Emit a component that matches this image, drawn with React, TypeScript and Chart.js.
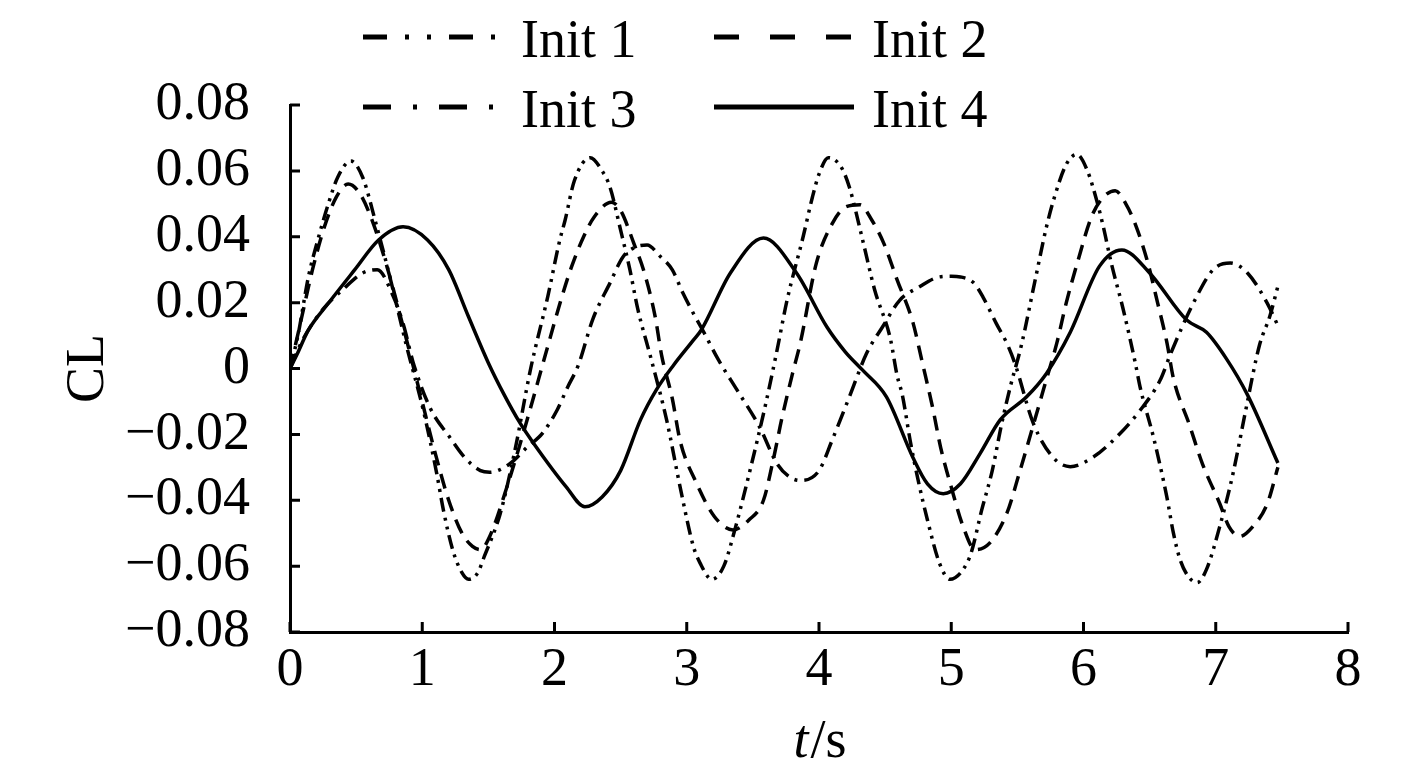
import React, { useEffect, useRef } from 'react';
import { Chart, registerables } from 'chart.js';

Chart.register(...registerables);

const FONT = "'Liberation Serif', 'Times New Roman', serif";

const seriesLabels = ['Init 1', 'Init 2', 'Init 3', 'Init 4'];
const xTicks = [0, 1, 2, 3, 4, 5, 6, 7, 8];
const yTicks = [-0.08, -0.06, -0.04, -0.02, 0, 0.02, 0.04, 0.06, 0.08];
const yTitle = 'CL';
const xTitleItalic = 't';
const xTitleRest = '/s';

const init1T = [0, 0.06, 0.14, 0.21, 0.29, 0.36, 0.46, 0.55, 0.65, 0.76, 0.88, 1.01, 1.11, 1.16, 1.23, 1.3, 1.35, 1.42, 1.47, 1.59, 1.7, 1.82, 1.95, 2.04, 2.08, 2.15, 2.27, 2.36, 2.42, 2.5, 2.57, 2.63, 2.73, 2.85, 2.95, 3.05, 3.1, 3.19, 3.28, 3.37, 3.49, 3.59, 3.68, 3.76, 3.88, 3.95, 4.0, 4.07, 4.17, 4.23, 4.33, 4.42, 4.54, 4.59, 4.63, 4.69, 4.75, 4.82, 4.91, 4.99, 5.09, 5.15, 5.23, 5.31, 5.38, 5.45, 5.53, 5.63, 5.72, 5.78, 5.87, 5.95, 6.03, 6.1, 6.15, 6.21, 6.3, 6.39, 6.43, 6.53, 6.63, 6.68, 6.73, 6.79, 6.86, 6.93, 7.03, 7.13, 7.23, 7.33, 7.41, 7.47];
const init1CL = [0, 0.01, 0.028, 0.039, 0.05, 0.058, 0.063, 0.058, 0.044, 0.027, 0.007, -0.013, -0.032, -0.043, -0.055, -0.062, -0.064, -0.062, -0.057, -0.044, -0.025, 0, 0.022, 0.039, 0.045, 0.057, 0.064, 0.06, 0.055, 0.042, 0.03, 0.018, 0.003, -0.016, -0.036, -0.054, -0.059, -0.064, -0.06, -0.048, -0.029, -0.012, 0.005, 0.021, 0.04, 0.052, 0.059, 0.064, 0.061, 0.055, 0.039, 0.024, 0.009, -0.002, -0.008, -0.022, -0.034, -0.046, -0.059, -0.064, -0.061, -0.056, -0.043, -0.031, -0.017, -0.005, 0.007, 0.026, 0.043, 0.052, 0.062, 0.065, 0.06, 0.051, 0.043, 0.032, 0.018, 0.002, -0.006, -0.021, -0.039, -0.05, -0.058, -0.063, -0.065, -0.061, -0.048, -0.032, -0.012, 0.007, 0.016, 0.025];

const init2T = [0, 0.08, 0.17, 0.26, 0.35, 0.44, 0.53, 0.63, 0.74, 0.86, 0.98, 1.1, 1.2, 1.3, 1.38, 1.44, 1.51, 1.64, 1.79, 1.93, 2.05, 2.13, 2.22, 2.3, 2.43, 2.5, 2.6, 2.68, 2.76, 2.81, 2.89, 2.95, 3.07, 3.21, 3.35, 3.47, 3.58, 3.65, 3.72, 3.8, 3.86, 3.98, 4.1, 4.2, 4.31, 4.4, 4.49, 4.59, 4.71, 4.78, 4.86, 4.92, 5.0, 5.09, 5.18, 5.29, 5.42, 5.52, 5.6, 5.7, 5.8, 5.87, 5.96, 6.06, 6.15, 6.24, 6.32, 6.39, 6.48, 6.56, 6.63, 6.68, 6.8, 6.9, 7.03, 7.1, 7.18, 7.28, 7.39, 7.47];
const init2CL = [0, 0.014, 0.03, 0.043, 0.052, 0.056, 0.053, 0.044, 0.03, 0.012, -0.007, -0.026, -0.04, -0.05, -0.054, -0.055, -0.051, -0.036, -0.016, 0.004, 0.021, 0.031, 0.04, 0.046, 0.0505, 0.048, 0.038, 0.029, 0.016, 0.004, -0.009, -0.022, -0.0345, -0.045, -0.049, -0.046, -0.04, -0.0285, -0.015, -0.0015, 0.008, 0.032, 0.044, 0.049, 0.0497, 0.045, 0.038, 0.027, 0.014, 0.002, -0.012, -0.024, -0.036, -0.048, -0.055, -0.053, -0.044, -0.031, -0.02, -0.006, 0.008, 0.02, 0.033, 0.046, 0.052, 0.054, 0.05, 0.044, 0.033, 0.02, 0.008, -0.003, -0.017, -0.029, -0.041, -0.048, -0.051, -0.048, -0.041, -0.03];

const init3T = [0, 0.1, 0.25, 0.4, 0.55, 0.66, 0.78, 0.86, 0.93, 1.06, 1.21, 1.32, 1.44, 1.51, 1.66, 1.79, 1.91, 2.02, 2.1, 2.18, 2.29, 2.42, 2.52, 2.62, 2.7, 2.8, 2.89, 2.97, 3.06, 3.12, 3.24, 3.38, 3.55, 3.68, 3.78, 3.86, 4.0, 4.1, 4.23, 4.36, 4.48, 4.61, 4.76, 4.91, 5.0, 5.07, 5.17, 5.24, 5.34, 5.42, 5.48, 5.62, 5.77, 5.9, 6.07, 6.25, 6.43, 6.58, 6.66, 6.83, 6.98, 7.11, 7.24, 7.39, 7.47];
const init3CL = [0, 0.009, 0.018, 0.024, 0.029, 0.03, 0.022, 0.013, 0.002, -0.012, -0.021, -0.027, -0.031, -0.0315, -0.029, -0.024, -0.0196, -0.0126, -0.0056, 0.001, 0.015, 0.026, 0.034, 0.037, 0.0375, 0.034, 0.03, 0.023, 0.016, 0.0117, 0.0026, -0.0065, -0.0177, -0.0287, -0.033, -0.034, -0.031, -0.0217, -0.0086, 0.0046, 0.0126, 0.0207, 0.0248, 0.0278, 0.028, 0.0278, 0.026, 0.0217, 0.0137, 0.0077, 0.0017, -0.0166, -0.027, -0.0298, -0.027, -0.0208, -0.0126, -0.0035, 0.0046, 0.0198, 0.03, 0.032, 0.029, 0.0198, 0.013];

const init4T = [0, 0.05, 0.14, 0.29, 0.49, 0.67, 0.855, 1.04, 1.2, 1.35, 1.5, 1.62, 1.74, 1.84, 2.09, 2.23, 2.36, 2.5, 2.65, 2.77, 2.9, 3.05, 3.11, 3.33, 3.58, 3.83, 4.06, 4.2, 4.33, 4.51, 4.71, 4.82, 4.94, 5.07, 5.22, 5.37, 5.57, 5.72, 5.9, 6.12, 6.29, 6.5, 6.78, 6.93, 7.08, 7.24, 7.47];
const init4CL = [0, 0.004, 0.0117, 0.0198, 0.03, 0.039, 0.043, 0.039, 0.03, 0.0157, 0.0017, -0.008, -0.0166, -0.0226, -0.036, -0.042, -0.039, -0.031, -0.0156, -0.0065, 0.001, 0.0086, 0.0117, 0.029, 0.0396, 0.029, 0.0126, 0.005, -0.0005, -0.0086, -0.027, -0.035, -0.038, -0.035, -0.0257, -0.0156, -0.0086, -0.0015, 0.011, 0.031, 0.036, 0.029, 0.0147, 0.011, 0.003, -0.008, -0.0287];

const seriesT = [init1T, init2T, init3T, init4T];
const seriesCL = [init1CL, init2CL, init3CL, init4CL];

const plotDash = [[14, 6, 3, 6, 3, 6], [15, 9], [16, 7, 3, 7], []];
const legendDash = [[24, 18, 4, 18, 4, 18], [25, 31], [28, 22, 4, 22], []];

function toPoints(t: number[], v: number[]) {
  return t.map((x, i) => ({ x, y: v[i] }));
}

function fmtY(v: number) {
  if (Math.abs(v) < 1e-9) return '0';
  return (v < 0 ? '\u2212' : '') + Math.abs(v).toFixed(2);
}

const decorPlugin = {
  id: 'decor',
  afterDraw(chart: any) {
    const { ctx, chartArea: a, scales } = chart;
    const xs = scales.x;
    const ys = scales.y;
    ctx.save();
    ctx.strokeStyle = '#000';
    ctx.lineWidth = 3;
    ctx.setLineDash([]);
    ctx.beginPath();
    xTicks.forEach((v) => {
      const px = xs.getPixelForValue(v);
      ctx.moveTo(px, a.bottom);
      ctx.lineTo(px, a.bottom - 10);
    });
    yTicks.forEach((v) => {
      const py = ys.getPixelForValue(v);
      ctx.moveTo(a.left, py);
      ctx.lineTo(a.left + 10, py);
    });
    ctx.stroke();

    ctx.fillStyle = '#000';
    ctx.save();
    ctx.font = `54px ${FONT}`;
    ctx.translate(89, (a.top + a.bottom) / 2);
    ctx.rotate(-Math.PI / 2);
    ctx.textAlign = 'center';
    ctx.textBaseline = 'middle';
    ctx.fillText(yTitle, 0, 0);
    ctx.restore();

    ctx.textBaseline = 'alphabetic';
    ctx.textAlign = 'left';
    ctx.font = `italic 54px ${FONT}`;
    const w1 = ctx.measureText(xTitleItalic).width;
    ctx.font = `54px ${FONT}`;
    const w2 = ctx.measureText(xTitleRest).width;
    const cx = (a.left + a.right) / 2;
    const startX = cx - (w1 + w2) / 2;
    ctx.font = `italic 54px ${FONT}`;
    ctx.fillText(xTitleItalic, startX, 757);
    ctx.font = `54px ${FONT}`;
    ctx.fillText(xTitleRest, startX + w1 + 2, 757);

    const colLine = [363, 714];
    const colText = [521, 872];
    const rowLine = [37, 107];
    const rowBase = [57, 127];
    seriesLabels.forEach((lab, i) => {
      const c = i % 2;
      const r = Math.floor(i / 2);
      ctx.save();
      ctx.lineWidth = 5;
      ctx.lineCap = 'butt';
      ctx.setLineDash(legendDash[i]);
      ctx.beginPath();
      ctx.moveTo(colLine[c], rowLine[r]);
      ctx.lineTo(colLine[c] + 140, rowLine[r]);
      ctx.stroke();
      ctx.restore();
      ctx.font = `54px ${FONT}`;
      ctx.textAlign = 'left';
      ctx.textBaseline = 'alphabetic';
      ctx.fillText(lab, colText[c], rowBase[r]);
    });
    ctx.restore();
  },
};

export default function App() {
  const ref = useRef<HTMLCanvasElement>(null);
  useEffect(() => {
    if (!ref.current) return;
    const chart = new Chart(ref.current, {
      type: 'line',
      data: {
        datasets: seriesLabels.map((lab, i) => ({
          label: lab,
          data: toPoints(seriesT[i], seriesCL[i]),
          borderColor: '#000',
          backgroundColor: '#000',
          borderWidth: 3.5,
          borderDash: plotDash[i],
          pointRadius: 0,
          fill: false,
          cubicInterpolationMode: 'monotone' as const,
        })),
      },
      options: {
        animation: false,
        responsive: false,
        events: [],
        layout: { padding: { top: 105, right: 69, left: 0, bottom: 0 } },
        plugins: {
          legend: { display: false },
          tooltip: { enabled: false },
          title: { display: false },
        },
        scales: {
          x: {
            type: 'linear',
            min: 0,
            max: 8,
            afterFit: (s: any) => {
              s.height = 149;
            },
            afterBuildTicks: (s: any) => {
              s.ticks = xTicks.map((v) => ({ value: v }));
            },
            grid: { display: false, drawTicks: false },
            border: { display: true, color: '#000', width: 3 },
            ticks: {
              color: '#000',
              padding: 6,
              maxRotation: 0,
              autoSkip: false,
              font: { family: FONT, size: 54 },
              callback: (v: any) => String(v),
            },
          },
          y: {
            type: 'linear',
            min: -0.08,
            max: 0.08,
            afterFit: (s: any) => {
              s.width = 290;
            },
            afterBuildTicks: (s: any) => {
              s.ticks = yTicks.map((v) => ({ value: v }));
            },
            grid: { display: false, drawTicks: false },
            border: { display: true, color: '#000', width: 3 },
            ticks: {
              color: '#000',
              padding: 40,
              autoSkip: false,
              font: { family: FONT, size: 54 },
              callback: (v: any) => fmtY(Number(v)),
            },
          },
        },
      },
      plugins: [decorPlugin],
    });
    return () => chart.destroy();
  }, []);
  return (
    <div style={{ position: 'absolute', left: 0, top: 0, width: 1417, height: 781, background: '#fff' }}>
      <canvas ref={ref} width={1417} height={781} style={{ display: 'block' }} />
    </div>
  );
}
